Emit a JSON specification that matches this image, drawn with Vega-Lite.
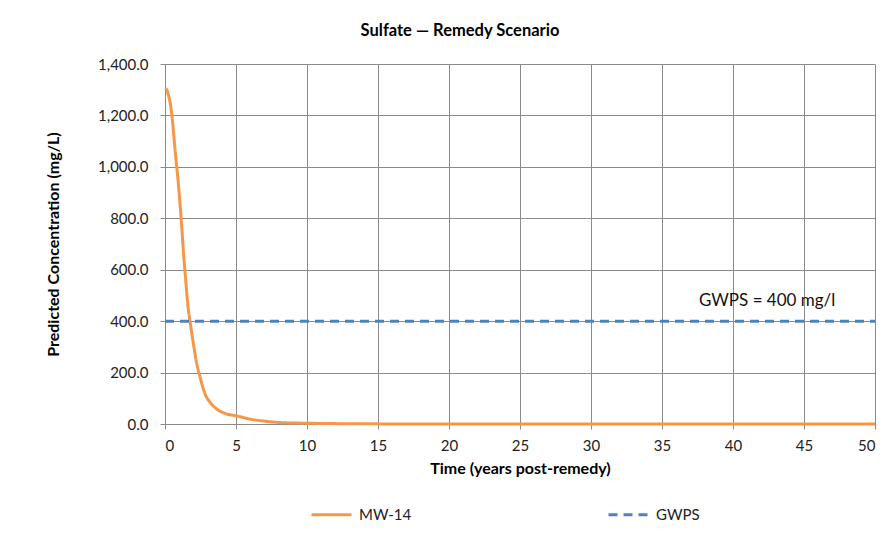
{
  "$schema": "https://vega.github.io/schema/vega-lite/v6.json",
  "autosize": {"type": "none"},
  "width": 710,
  "height": 360,
  "padding": {"left": 165, "top": 64, "right": 17, "bottom": 122},
  "background": "white",
  "title": {"text": "Sulfate — Remedy Scenario", "font": "Lato", "fontSize": 16.5, "fontWeight": "bold", "color": "#000", "anchor": "middle", "offset": 18, "dx": -60},
  "config": {
    "font": "Lato",
    "view": {"stroke": null},
    "axis": {"labelFont": "Lato", "labelFontSize": 15, "labelColor": "#222", "titleFont": "Lato", "titleFontSize": 16, "titleFontWeight": "bold", "titleColor": "#000", "gridColor": "#8a8a8a", "gridWidth": 1, "domainColor": "#8a8a8a", "tickColor": "#8a8a8a", "tickSize": 5}
  },
  "layer": [
    {
      "data": {"values": [
        {"t": 0, "v": 1305, "series": "MW-14"},
        {"t": 0.12, "v": 1300, "series": "MW-14"},
        {"t": 0.24, "v": 1280, "series": "MW-14"},
        {"t": 0.47, "v": 1208, "series": "MW-14"},
        {"t": 0.71, "v": 1065, "series": "MW-14"},
        {"t": 0.94, "v": 935, "series": "MW-14"},
        {"t": 1.18, "v": 766, "series": "MW-14"},
        {"t": 1.29, "v": 675, "series": "MW-14"},
        {"t": 1.48, "v": 545, "series": "MW-14"},
        {"t": 1.65, "v": 442, "series": "MW-14"},
        {"t": 1.76, "v": 400, "series": "MW-14"},
        {"t": 2.0, "v": 312, "series": "MW-14"},
        {"t": 2.24, "v": 234, "series": "MW-14"},
        {"t": 2.47, "v": 182, "series": "MW-14"},
        {"t": 2.82, "v": 117, "series": "MW-14"},
        {"t": 3.18, "v": 84, "series": "MW-14"},
        {"t": 3.65, "v": 58, "series": "MW-14"},
        {"t": 4.35, "v": 39, "series": "MW-14"},
        {"t": 5, "v": 32, "series": "MW-14"},
        {"t": 6, "v": 19, "series": "MW-14"},
        {"t": 7.2, "v": 10, "series": "MW-14"},
        {"t": 8.35, "v": 5, "series": "MW-14"},
        {"t": 10, "v": 3, "series": "MW-14"},
        {"t": 12, "v": 1.5, "series": "MW-14"},
        {"t": 15, "v": 0.5, "series": "MW-14"},
        {"t": 20, "v": 0.1, "series": "MW-14"},
        {"t": 30, "v": 0, "series": "MW-14"},
        {"t": 40, "v": 0, "series": "MW-14"},
        {"t": 50, "v": 0, "series": "MW-14"},
        {"t": 0, "v": 400, "series": "GWPS"},
        {"t": 50, "v": 400, "series": "GWPS"}
      ]},
      "mark": {"type": "line", "interpolate": "monotone", "strokeWidth": 3},
      "encoding": {
        "x": {"field": "t", "type": "quantitative", "title": "Time (years post-remedy)", "scale": {"domain": [0, 50], "nice": false}, "axis": {"values": [0,5,10,15,20,25,30,35,40,45,50], "titlePadding": 7, "labelPadding": 9}},
        "y": {"field": "v", "type": "quantitative", "title": "Predicted Concentration (mg/L)", "scale": {"domain": [0, 1400], "nice": false}, "axis": {"values": [0,200,400,600,800,1000,1200,1400], "format": ",.1f", "titlePadding": 36, "labelPadding": 12}},
        "color": {"field": "series", "type": "nominal", "scale": {"domain": ["MW-14", "GWPS"], "range": ["#F79646", "#4F81BD"]},
          "legend": {"title": null, "orient": "none", "legendX": 145, "legendY": 429, "direction": "horizontal", "symbolType": "stroke", "symbolSize": 1600, "symbolStrokeWidth": 3, "labelFontSize": 15, "labelFont": "Lato", "labelColor": "#222", "columnPadding": 190, "labelOffset": 6}},
        "strokeDash": {"field": "series", "type": "nominal", "scale": {"domain": ["MW-14", "GWPS"], "range": [[1, 0], [9, 6]]}}
      }
    },
    {
      "data": {"values": [{"t": 37.6, "v": 480, "label": "GWPS = 400 mg/l"}]},
      "mark": {"type": "text", "align": "left", "baseline": "middle", "fontSize": 17, "font": "Lato", "color": "#111"},
      "encoding": {
        "x": {"field": "t", "type": "quantitative"},
        "y": {"field": "v", "type": "quantitative"},
        "text": {"field": "label"}
      }
    }
  ]
}
